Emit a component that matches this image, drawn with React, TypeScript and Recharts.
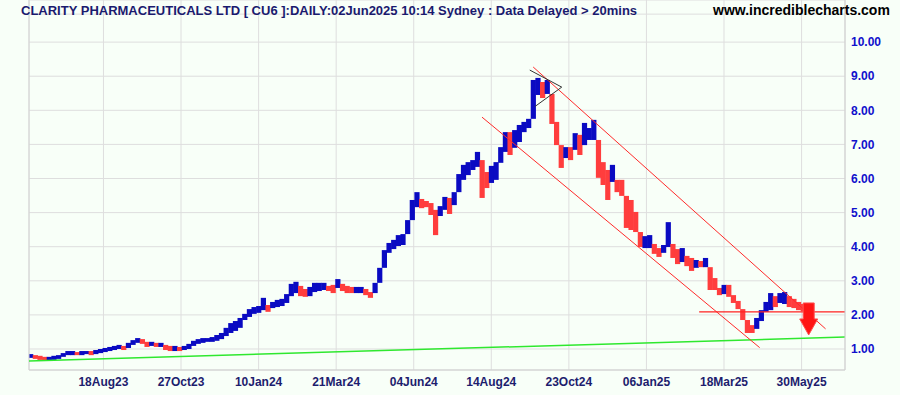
import { ComposedChart, Bar, Cell, XAxis, YAxis, CartesianGrid, ReferenceLine, ReferenceDot } from 'recharts';

// price bands, one entry per three trading sessions
// (session 0 = first bar, early June 2023)
const highs = [
  0.85, 0.82, 0.8, 0.77, 0.77, 0.8, 0.82, 0.88, 0.94, 0.94,
  0.91, 0.94, 0.94, 0.94, 0.97, 1.0, 1.03, 1.06, 1.09, 1.12,
  1.09, 1.18, 1.26, 1.32, 1.29, 1.21, 1.21, 1.18, 1.18, 1.12,
  1.09, 1.09, 1.06, 1.09, 1.15, 1.24, 1.29, 1.32, 1.32, 1.35,
  1.41, 1.47, 1.62, 1.76, 1.82, 1.91, 2.03, 2.17, 2.23, 2.26,
  2.5, 2.29, 2.38, 2.44, 2.47, 2.61, 2.91, 2.97, 2.85, 2.76,
  2.82, 2.94, 2.94, 2.94, 2.85, 2.88, 3.05, 2.91, 2.85, 2.82,
  2.82, 2.82, 2.76, 2.67, 2.94, 3.38, 3.9, 4.11, 4.2, 4.34,
  4.37, 4.78, 5.37, 5.6, 5.4, 5.34, 5.28, 5.08, 5.19, 5.46,
  5.43, 5.6, 6.13, 6.4, 6.48, 6.54, 6.78, 6.54, 6.19, 6.37,
  6.48, 6.92, 7.36, 7.36, 7.42, 7.57, 7.66, 7.75, 8.89, 8.95,
  8.83, 8.89, 8.36, 7.66, 6.98, 6.92, 6.92, 7.33, 7.28, 7.63,
  7.48, 7.72, 6.84, 6.48, 6.25, 6.4, 5.96, 5.96, 5.43, 5.37,
  5.02, 4.28, 4.31, 4.34, 4.08, 3.96, 4.05, 4.72, 4.08, 3.93,
  3.96, 3.73, 3.67, 3.61, 3.58, 3.67, 3.26, 3.08, 2.79, 2.88,
  2.88, 2.58, 2.41, 2.11, 1.73, 1.7, 1.91, 2.14, 2.38, 2.64,
  2.55, 2.64, 2.67, 2.55, 2.47, 2.38, 2.32,
];

const lows = [
  0.74, 0.71, 0.68, 0.65, 0.65, 0.68, 0.71, 0.77, 0.82, 0.82,
  0.82, 0.82, 0.85, 0.82, 0.85, 0.88, 0.91, 0.94, 0.97, 1.0,
  0.97, 1.03, 1.12, 1.18, 1.15, 1.06, 1.09, 1.06, 1.06, 0.97,
  0.94, 0.94, 0.94, 0.97, 1.0, 1.09, 1.15, 1.18, 1.21, 1.21,
  1.24, 1.29, 1.38, 1.47, 1.53, 1.62, 1.85, 1.94, 2.03, 2.06,
  2.14, 2.09, 2.2, 2.23, 2.26, 2.35, 2.55, 2.64, 2.55, 2.53,
  2.55, 2.67, 2.7, 2.73, 2.7, 2.64, 2.79, 2.7, 2.64, 2.64,
  2.64, 2.64, 2.58, 2.5, 2.64, 2.94, 3.55, 3.82, 3.93, 4.02,
  4.05, 4.49, 4.87, 5.16, 5.13, 5.16, 4.93, 4.34, 4.9, 5.08,
  4.96, 5.22, 5.72, 5.96, 6.1, 6.25, 6.34, 5.43, 5.72, 5.87,
  5.96, 6.46, 6.78, 6.69, 6.9, 7.07, 7.36, 7.48, 7.95, 8.45,
  8.36, 8.48, 7.6, 6.98, 6.31, 6.6, 6.54, 6.84, 6.69, 6.98,
  7.13, 7.13, 6.02, 5.81, 5.37, 5.9, 5.6, 5.49, 4.55, 4.49,
  4.43, 3.99, 3.96, 3.96, 3.79, 3.7, 3.82, 3.99, 3.67, 3.49,
  3.55, 3.43, 3.29, 3.38, 3.4, 3.4, 2.73, 2.73, 2.58, 2.61,
  2.53, 2.35, 2.17, 1.85, 1.47, 1.47, 1.59, 1.82, 2.09, 2.14,
  2.23, 2.35, 2.32, 2.23, 2.2, 2.14, 2.11,
];

const tickSessions = [48, 98, 148, 198, 248, 298, 348, 398, 448, 498];
const tickLabels = ['18Aug23', '27Oct23', '10Jan24', '21Mar24', '04Jun24', '14Aug24', '23Oct24', '06Jan25', '18Mar25', '30May25'];
const priceTicks = [1, 1.5, 2, 2.5, 3, 3.5, 4, 4.5, 5, 5.5, 6, 6.5, 7, 7.5, 8, 8.5, 9, 9.5, 10];

// drawn trend lines: [session, price]
const supportLine = [[0, 0.65], [526, 1.35]];
const channelTop = [[325, 9.27], [513.5, 1.59]];
const channelBottom = [[292, 7.8], [471, 1.04]];
const breakLevel = [[432, 2.09], [526, 2.09]];
const flagLines = [[322.8, 9.18], [343.4, 8.68], [326.1, 8.11]];
const arrowAt = [502.6, 2.35];

// each band is stretched to meet the one before it so the trace stays unbroken
const data = highs.map((h, k) => {
  let lo = lows[k];
  let hi = h;
  if (k > 0) {
    if (lo > highs[k - 1]) lo = highs[k - 1];
    if (hi < lows[k - 1]) hi = lows[k - 1];
  }
  return { session: 1 + k * 3, range: [lo, hi], mid: (lows[k] + h) / 2 };
});

const BLUE = '#0a0ac2';
const RED = '#ff3d3d';
const GRID = '#dedede';

const seg = (pts: number[][]) => pts.map(([x, y]) => ({ x, y }));

function PriceBar(props: any) {
  const { x, y, width, height, fill } = props;
  const cx = x + width / 2;
  const top = Math.min(y, y + height);
  const h = Math.max(Math.abs(height), 2);
  return <rect x={cx - 2.6} y={top} width={5.2} height={h} fill={fill} />;
}

function Arrow(props: any) {
  const { cx, cy } = props;
  const pts = [
    [cx - 5.5, cy], [cx + 5.5, cy], [cx + 5.5, cy + 16], [cx + 9, cy + 16],
    [cx, cy + 32], [cx - 9, cy + 16], [cx - 5.5, cy + 16],
  ].map((p) => p.join(',')).join(' ');
  return <polygon points={pts} fill="#ff1414" stroke="#ff5050" strokeWidth={1} />;
}

export default function App() {
  return (
    <div style={{ position: 'absolute', left: 0, top: 0, width: 900, height: 395, background: '#f8fff8' }}>
      <ComposedChart width={900} height={395} data={data} margin={{ top: 0, right: 0, bottom: 0, left: 29 }}>
        <CartesianGrid stroke={GRID} strokeWidth={1} />
        <XAxis
          dataKey="session"
          type="number"
          domain={[0, 526]}
          ticks={tickSessions}
          tickFormatter={(v: number) => tickLabels[tickSessions.indexOf(v)] ?? ''}
          height={25}
          tickLine={false}
          tickSize={0}
          tickMargin={7}
          axisLine={{ stroke: '#cfcfcf' }}
          tick={{ fill: '#1d1d6e', fontSize: 12, fontWeight: 'bold', fontFamily: 'Liberation Sans, Arial, sans-serif' }}
          allowDataOverflow
        />
        <YAxis
          orientation="right"
          type="number"
          domain={[0.384, 11.235]}
          ticks={priceTicks}
          allowDataOverflow
          width={55}
          tickLine={false}
          tickSize={0}
          tickMargin={6}
          axisLine={{ stroke: '#cfcfcf' }}
          tickFormatter={(v: number) => v.toFixed(2)}
          tick={{ fill: '#1010cc', fontSize: 12, fontWeight: 'bold', fontFamily: 'Liberation Sans, Arial, sans-serif', textAnchor: 'start' }}
        />
        <ReferenceLine y={10.82} stroke={GRID} />
        <ReferenceLine x={0} stroke="#d4d4d4" />
        <Bar dataKey="range" shape={PriceBar} isAnimationActive={false}>
          {data.map((d, k) => (
            <Cell key={d.session} fill={k === 0 || d.mid >= data[k - 1].mid ? BLUE : RED} />
          ))}
        </Bar>
        <ReferenceLine segment={seg(supportLine)} stroke="#2fe82f" strokeWidth={1.5} />
        <ReferenceLine segment={seg(channelTop)} stroke="#ff2a2a" strokeWidth={1} />
        <ReferenceLine segment={seg(channelBottom)} stroke="#ff2a2a" strokeWidth={1} />
        <ReferenceLine segment={seg(breakLevel)} stroke="#ff2020" strokeWidth={1.2} />
        <ReferenceLine segment={seg(flagLines.slice(0, 2))} stroke="#333333" strokeWidth={1} />
        <ReferenceLine segment={seg(flagLines.slice(1, 3))} stroke="#333333" strokeWidth={1} />
        <ReferenceDot x={arrowAt[0]} y={arrowAt[1]} r={1} shape={Arrow} />
      </ComposedChart>
      <svg width={900} height={20} style={{ position: 'absolute', left: 0, top: 0 }}>
        <text x={21} y={14.5} fill="#1a1a6e" fontSize={13} fontWeight="bold" fontFamily="Liberation Sans, Arial, sans-serif">
          CLARITY PHARMACEUTICALS LTD [ CU6 ]:DAILY:02Jun2025 10:14 Sydney : Data Delayed &gt; 20mins
        </text>
        <text x={713} y={14.5} fill="#000000" fontSize={14} fontWeight="bold" fontFamily="Liberation Sans, Arial, sans-serif">
          www.incrediblecharts.com
        </text>
      </svg>
    </div>
  );
}
